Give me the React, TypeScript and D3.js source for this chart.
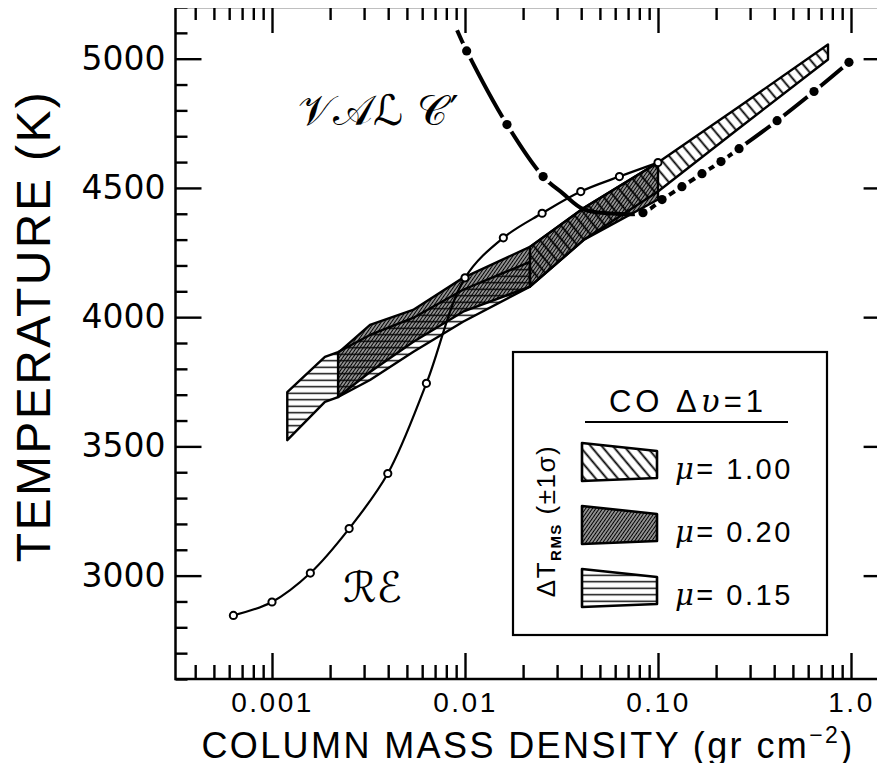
import { useEffect, useRef } from "react";
import * as d3 from "d3";

const W = 885;
const H = 771;

// RE model (open circles)
const reMass = [0.000631, 0.001, 0.00158, 0.00251, 0.00398, 0.00631, 0.01, 0.0158, 0.0251, 0.0398, 0.0631, 0.1];
const reTemp = [2846, 2898, 3010, 3182, 3395, 3744, 4152, 4307, 4402, 4486, 4544, 4598];

// VAL C' model (filled dots, 1 = marker drawn)
const valMass = [0.0091, 0.0102, 0.0165, 0.0254, 0.032, 0.041, 0.055, 0.0836, 0.105, 0.133, 0.169, 0.212, 0.263, 0.414, 0.643, 0.976];
const valTemp = [5110, 5030, 4745, 4544, 4480, 4418, 4402, 4404, 4455, 4505, 4555, 4602, 4652, 4760, 4873, 4986];
const valDot = [0, 1, 1, 1, 0, 0, 0, 1, 1, 1, 1, 1, 1, 1, 1, 1];

// Delta T_RMS (+-1 sigma) bands
const mu015Mass = [0.0012, 0.00188, 0.0022, 0.00322, 0.00538, 0.00977, 0.0217];
const mu015Hi = [3710, 3846, 3865, 3931, 3997, 4106, 4214];
const mu015Lo = [3524, 3672, 3691, 3757, 3865, 3982, 4118];

const mu020Mass = [0.0022, 0.00322, 0.00538, 0.00977, 0.0217, 0.0414, 0.1];
const mu020Hi = [3862, 3970, 4028, 4152, 4272, 4423, 4598];
const mu020Lo = [3691, 3788, 3904, 4021, 4118, 4300, 4455];

const mu100Mass = [0.0217, 0.0414, 0.1, 0.266, 0.76];
const mu100Hi = [4272, 4423, 4598, 4817, 5055];
const mu100Lo = [4118, 4300, 4486, 4734, 4997];

const xMajor = [0.001, 0.01, 0.1, 1];
const xLabels = ["0.001", "0.01", "0.10", "1.0"];
const yMajor = [3000, 3500, 4000, 4500, 5000];
const muLabels = ["1.00", "0.20", "0.15"];
const muPatterns = ["hatchSparse", "hatchDense", "hatchHoriz"];

export default function App() {
  const svgRef = useRef<SVGSVGElement>(null);

  useEffect(() => {
    const svg = d3.select(svgRef.current);
    svg.selectAll("*").remove();

    const left = 175.5, right = 889.6, top = 7, bottom = 679;
    const x = d3.scaleLog().domain([10 ** -3.5, 10 ** 0.2]).range([left, right]);
    const y = d3.scaleLinear().domain([2600, 5200]).range([bottom, top]);

    const defs = svg.append("defs");
    const pattern = (id: string, gap: number, sw: number, angle: number) => {
      const p = defs
        .append("pattern")
        .attr("id", id)
        .attr("patternUnits", "userSpaceOnUse")
        .attr("width", 10)
        .attr("height", gap)
        .attr("patternTransform", `rotate(${angle})`);
      p.append("line")
        .attr("x1", 0).attr("x2", 10)
        .attr("y1", gap / 2).attr("y2", gap / 2)
        .attr("stroke", "#000")
        .attr("stroke-width", sw);
    };
    pattern("hatchSparse", 8.5, 1.8, 50);
    pattern("hatchDense", 2.8, 1.75, -55);
    pattern("hatchHoriz", 6.5, 1.4, 0);

    // gaps in VAL line around its markers
    const valPts = valMass.map((m, i) => ({ m, t: valTemp[i], dot: valDot[i] }));
    const mask = defs.append("mask").attr("id", "valGap")
      .attr("maskUnits", "userSpaceOnUse")
      .attr("x", 0).attr("y", 0).attr("width", W).attr("height", H);
    mask.append("rect").attr("width", W).attr("height", H).attr("fill", "#fff");
    mask.selectAll("circle").data(valPts.filter((d) => d.dot)).join("circle")
      .attr("cx", (d) => x(d.m)).attr("cy", (d) => y(d.t)).attr("r", 8.5).attr("fill", "#000");

    // frame
    svg.append("rect")
      .attr("x", left).attr("y", top)
      .attr("width", right - left).attr("height", bottom - top)
      .attr("fill", "none").attr("stroke", "#000").attr("stroke-width", 2.5);

    // axes
    const xMinor = x.ticks().filter((t) => !xMajor.some((m) => Math.abs(t - m) / m < 1e-6));
    const yMinor = d3.range(2600, 5201, 100).filter((t) => t % 500 !== 0);
    const styleAxis = (g: any) => {
      g.select(".domain").remove();
      g.selectAll("line").attr("stroke-width", 2.4);
    };

    svg.append("g").attr("transform", `translate(0,${bottom})`)
      .call(d3.axisBottom(x).tickValues(xMajor).tickSizeInner(-26).tickSizeOuter(0).tickPadding(13)
        .tickFormat((d, i) => xLabels[i]))
      .call(styleAxis)
      .selectAll("text")
      .attr("font-family", "Liberation Sans, Arial, sans-serif")
      .attr("font-size", 28)
      .attr("letter-spacing", 2.5)
      .attr("fill", "#000");
    svg.append("g").attr("transform", `translate(0,${bottom})`)
      .call(d3.axisBottom(x).tickValues(xMinor).tickSizeInner(-14).tickSizeOuter(0).tickFormat(() => ""))
      .call(styleAxis);
    svg.append("g").attr("transform", `translate(0,${top})`)
      .call(d3.axisTop(x).tickValues(xMajor).tickSizeInner(-26).tickSizeOuter(0).tickFormat(() => ""))
      .call(styleAxis);
    svg.append("g").attr("transform", `translate(0,${top})`)
      .call(d3.axisTop(x).tickValues(xMinor).tickSizeInner(-13).tickSizeOuter(0).tickFormat(() => ""))
      .call(styleAxis);

    svg.append("g").attr("transform", `translate(${left},0)`)
      .call(d3.axisLeft(y).tickValues(yMajor).tickSizeInner(-26).tickSizeOuter(0).tickPadding(10)
        .tickFormat((d) => String(d)))
      .call(styleAxis)
      .selectAll("text")
      .attr("font-family", "DejaVu Sans, sans-serif")
      .attr("font-size", 33)
      .attr("fill", "#000");
    svg.append("g").attr("transform", `translate(${left},0)`)
      .call(d3.axisLeft(y).tickValues(yMinor).tickSizeInner(-12).tickSizeOuter(0).tickFormat(() => ""))
      .call(styleAxis);
    svg.append("g").attr("transform", `translate(${right},0)`)
      .call(d3.axisRight(y).tickValues(yMajor).tickSizeInner(-26).tickSizeOuter(0).tickFormat(() => ""))
      .call(styleAxis);
    svg.append("g").attr("transform", `translate(${right},0)`)
      .call(d3.axisRight(y).tickValues(yMinor).tickSizeInner(-12).tickSizeOuter(0).tickFormat(() => ""))
      .call(styleAxis);

    // axis titles
    const xt = svg.append("text")
      .attr("x", 528).attr("y", 758)
      .attr("text-anchor", "middle")
      .attr("font-family", "Liberation Sans, Arial, sans-serif")
      .attr("font-size", 36)
      .attr("letter-spacing", 2.4);
    xt.append("tspan").text("COLUMN MASS DENSITY (gr cm");
    xt.append("tspan").attr("dy", -15).attr("font-size", 23).text("−2");
    xt.append("tspan").attr("dy", 15).text(")");

    svg.append("text")
      .attr("transform", "translate(50,326) rotate(-90)")
      .attr("text-anchor", "middle")
      .attr("font-family", "Liberation Sans, Arial, sans-serif")
      .attr("font-size", 48)
      .attr("letter-spacing", 2.4)
      .text("TEMPERATURE (K)");

    // RE curve line
    const reLine = d3.line<number>()
      .x((d, i) => x(reMass[i]))
      .y((d) => y(d))
      .curve(d3.curveCatmullRom.alpha(0.5));
    svg.append("path")
      .attr("d", reLine(reTemp))
      .attr("fill", "none").attr("stroke", "#000").attr("stroke-width", 2.2);

    // bands
    const band = (mass: number[], lo: number[], hi: number[], pat: string) => {
      const rows = mass.map((m, i) => ({ m, lo: lo[i], hi: hi[i] }));
      const area = d3.area<{ m: number; lo: number; hi: number }>()
        .x((d) => x(d.m)).y0((d) => y(d.lo)).y1((d) => y(d.hi));
      svg.append("path")
        .attr("d", area(rows))
        .attr("fill", `url(#${pat})`)
        .attr("stroke", "#000").attr("stroke-width", 2.4).attr("stroke-linejoin", "round");
    };
    band(mu015Mass, mu015Lo, mu015Hi, "hatchHoriz");
    band(mu020Mass, mu020Lo, mu020Hi, "hatchDense");
    band(mu100Mass, mu100Lo, mu100Hi, "hatchSparse");

    // VAL C' line
    const valLine = d3.line<{ m: number; t: number }>()
      .x((d) => x(d.m)).y((d) => y(d.t))
      .curve(d3.curveCatmullRom.alpha(0.5));
    svg.append("path")
      .attr("d", valLine(valPts))
      .attr("mask", "url(#valGap)")
      .attr("fill", "none").attr("stroke", "#000").attr("stroke-width", 4);

    // markers
    svg.append("g").selectAll("circle").data(reTemp).join("circle")
      .attr("cx", (d, i) => x(reMass[i])).attr("cy", (d) => y(d)).attr("r", 3.6)
      .attr("fill", "#fff").attr("stroke", "#000").attr("stroke-width", 2);
    svg.append("g").selectAll("circle").data(valPts.filter((d) => d.dot)).join("circle")
      .attr("cx", (d) => x(d.m)).attr("cy", (d) => y(d.t)).attr("r", 4.6)
      .attr("fill", "#000");

    // curve labels
    const vl = svg.append("text")
      .attr("x", 298).attr("y", 125)
      .attr("font-family", "DejaVu Serif, DejaVu Sans, serif")
      .attr("font-size", 42);
    vl.append("tspan").text("𝒱𝒜ℒ 𝒞");
    vl.append("tspan").attr("font-family", "DejaVu Sans, sans-serif").attr("font-size", 40).attr("dx", 2).text("′");
    svg.append("text")
      .attr("x", 343).attr("y", 602)
      .attr("font-family", "DejaVu Serif, DejaVu Sans, serif")
      .attr("font-size", 42)
      .text("ℛℰ");

    // legend
    const lg = svg.append("g");
    lg.append("rect")
      .attr("x", 513).attr("y", 352).attr("width", 314).attr("height", 283)
      .attr("fill", "#fff").attr("stroke", "#000").attr("stroke-width", 2.2);
    const lt = lg.append("text")
      .attr("x", 688).attr("y", 412)
      .attr("text-anchor", "middle")
      .attr("font-family", "Liberation Sans, Arial, sans-serif")
      .attr("font-size", 31)
      .attr("letter-spacing", 4);
    lt.append("tspan").text("CO  Δ");
    lt.append("tspan").attr("font-style", "italic").attr("font-family", "DejaVu Serif, serif").text("υ");
    lt.append("tspan").text("=1");
    lg.append("line")
      .attr("x1", 585).attr("x2", 788).attr("y1", 422).attr("y2", 422)
      .attr("stroke", "#000").attr("stroke-width", 2);

    const rl = lg.append("text")
      .attr("transform", "translate(555,521) rotate(-90)")
      .attr("text-anchor", "middle")
      .attr("font-family", "Liberation Sans, Arial, sans-serif")
      .attr("font-size", 26)
      .attr("letter-spacing", 1.5);
    rl.append("tspan").text("ΔT");
    rl.append("tspan").attr("font-size", 15).attr("font-weight", "bold").attr("dy", 6).text("RMS");
    rl.append("tspan").attr("dy", -6).text(" (±1σ)");

    muLabels.forEach((lab, i) => {
      const t0 = 443 + i * 63;
      lg.append("path")
        .attr("d", `M582,${t0}L657,${t0 + 8}L657,${t0 + 35}L582,${t0 + 38}Z`)
        .attr("fill", `url(#${muPatterns[i]})`)
        .attr("stroke", "#000").attr("stroke-width", 2.6).attr("stroke-linejoin", "round");
      const tx = lg.append("text")
        .attr("x", 675).attr("y", t0 + 36)
        .attr("font-family", "Liberation Sans, Arial, sans-serif")
        .attr("font-size", 29)
        .attr("letter-spacing", 2.5);
      tx.append("tspan").attr("font-style", "italic").attr("font-family", "DejaVu Serif, serif").text("μ");
      tx.append("tspan").text("=  " + lab);
    });
  }, []);

  return (
    <div style={{ width: W, height: H, margin: -8 }}>
      <svg ref={svgRef} width={W} height={H} style={{ display: "block", background: "#fff" }} />
    </div>
  );
}
